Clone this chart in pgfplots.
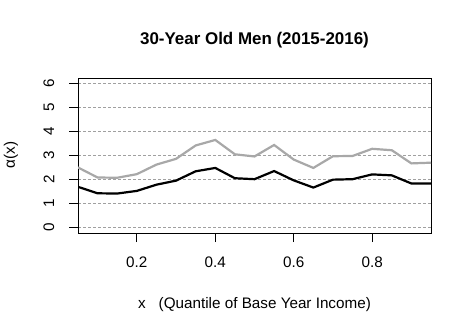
\documentclass[border=0pt]{standalone}
\usepackage{pgfplots}
\pgfplotsset{compat=1.18}
\usepackage{fontspec}
\setmainfont{Liberation Sans}
\definecolor{lgray}{RGB}{160,160,160}
\definecolor{ggray}{RGB}{168,168,168}
\begin{document}
\begin{tikzpicture}[x=1bp,y=1bp]
\path[use as bounding box] (0,0) rectangle (472,331);
\begin{axis}[
  at={(78bp,98bp)}, anchor=south west,
  scale only axis, width=353bp, height=155bp,
  xmin=0.05, xmax=0.95, ymin=-0.24, ymax=6.24,
  axis line style={line width=0.9bp},
  xtick={0.2,0.4,0.6,0.8},
  xticklabels={0.2,0.4,0.6,0.8},
  ytick={0,1,2,3,4,5,6},
  yticklabels={0,1,2,3,4,5,6},
  tick align=outside, tick pos=left,
  major tick length=9bp,
  every tick/.style={black, line width=0.9bp},
  ticklabel style={font=\fontsize{15.3}{18}\selectfont},
  xticklabel style={anchor=center, yshift=-20.5bp},
  yticklabel style={rotate=90, anchor=center, yshift=20bp},
  ymajorgrids,
  grid style={lgray, line width=0.8bp, dash pattern=on 2.5bp off 2.5bp},
  clip=true,
]
\addplot[ggray, line width=2.2bp] coordinates {
(0.05,2.50)(0.10,2.08)(0.15,2.07)(0.20,2.22)(0.25,2.62)(0.30,2.86)(0.35,3.42)(0.40,3.65)(0.45,3.05)(0.50,2.96)
(0.55,3.44)(0.60,2.83)(0.65,2.48)(0.70,2.97)(0.75,2.98)(0.80,3.28)(0.85,3.22)(0.90,2.67)(0.95,2.70)};
\addplot[black, line width=2.2bp] coordinates {
(0.05,1.69)(0.10,1.42)(0.15,1.41)(0.20,1.52)(0.25,1.78)(0.30,1.95)(0.35,2.34)(0.40,2.48)(0.45,2.05)(0.50,2.01)
(0.55,2.35)(0.60,1.96)(0.65,1.66)(0.70,1.99)(0.75,2.01)(0.80,2.21)(0.85,2.17)(0.90,1.83)(0.95,1.83)};
\end{axis}
\node[font=\fontsize{17}{20}\selectfont\bfseries] at (254.5,291) {30-Year Old Men (2015-2016)};
\node[font=\fontsize{15.3}{18}\selectfont] at (254.5,26.5) {x\hspace{13bp}(Quantile of Base Year Income)};
\node[font=\fontsize{15.3}{18}\selectfont, rotate=90] at (11,176) {α(x)};
\end{tikzpicture}
\end{document}
